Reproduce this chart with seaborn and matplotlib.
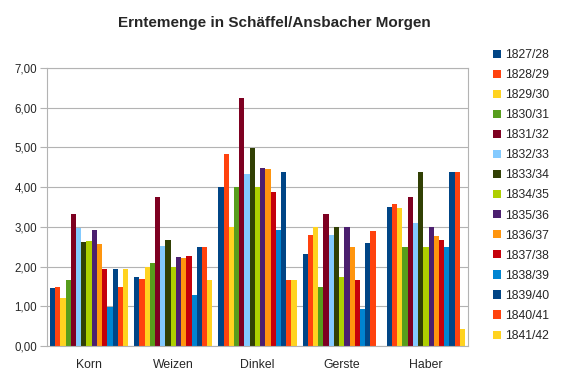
"""Erntemenge in Schäffel/Ansbacher Morgen — grouped bar chart."""
import matplotlib
matplotlib.use("Agg")
import matplotlib.pyplot as plt
import matplotlib.ticker as mticker
from matplotlib.patches import Patch
import numpy as np
import pandas as pd
import seaborn as sns

# ── Data ──────────────────────────────────────────────────────────────────────
crops = ["Korn", "Weizen", "Dinkel", "Gerste", "Haber"]
years = ["1827/28", "1828/29", "1829/30", "1830/31", "1831/32", "1832/33",
         "1833/34", "1834/35", "1835/36", "1836/37", "1837/38", "1838/39",
         "1839/40", "1840/41", "1841/42"]

korn   = [1.45, 1.48, 1.22, 1.67, 3.33, 2.98, 2.62, 2.65, 2.92, 2.56, 1.94, 0.98, 1.94, 1.48, 1.94]
weizen = [1.74, 1.68, 1.99, 2.08, 3.75, 2.51, 2.66, 1.99, 2.25, 2.21, 2.26, 1.29, 2.50, 2.50, 1.67]
dinkel = [4.00, 4.84, 2.99, 4.00, 6.25, 4.34, 4.99, 4.00, 4.49, 4.45, 3.89, 2.91, 4.38, 1.67, 1.67]
gerste = [2.32, 2.79, 2.99, 1.49, 3.33, 2.80, 2.99, 1.74, 2.99, 2.49, 1.67, 0.92, 2.59, 2.90, 0.0]
haber  = [3.49, 3.58, 3.48, 2.50, 3.75, 3.10, 4.37, 2.50, 2.99, 2.78, 2.66, 2.50, 4.37, 4.37, 0.44]

colors = ["#004586", "#ff420e", "#ffd320", "#579d1c", "#7e0021", "#83caff",
          "#314004", "#aecf00", "#4b1f6f", "#ff950e", "#c5000b", "#0084d1",
          "#004586", "#ff420e", "#ffd320"]

df = pd.DataFrame({"Korn": korn, "Weizen": weizen, "Dinkel": dinkel,
                   "Gerste": gerste, "Haber": haber}, index=years)
long = df.reset_index(names="Jahr").melt(id_vars="Jahr", var_name="Frucht",
                                          value_name="Menge")

# ── Style ─────────────────────────────────────────────────────────────────────
sns.set_style("white")
plt.rcParams["font.family"] = ["Liberation Sans", "DejaVu Sans"]

fig = plt.figure(figsize=(5.68, 3.80), dpi=100)
ax = fig.add_axes([47 / 568, 34 / 380, 421 / 568, 278 / 380])

sns.barplot(data=long, x="Frucht", y="Menge", hue="Jahr", order=crops,
            hue_order=years, palette=colors, width=0.93, gap=0,
            saturation=1, linewidth=0, errorbar=None, ax=ax, legend=False)

ax.set_ylim(0, 7)
ax.set_xlim(-0.5, 4.5)
ax.yaxis.set_major_locator(mticker.MultipleLocator(1))
ax.yaxis.set_major_formatter(
    mticker.FuncFormatter(lambda v, _: f"{v:.2f}".replace(".", ",")))
ax.grid(axis="y", color="#b3b3b3", linewidth=0.8)
ax.set_axisbelow(True)
for s in ax.spines.values():
    s.set_color("#b3b3b3")
    s.set_linewidth(0.8)
ax.set_xlabel("")
ax.set_ylabel("")

# category ticks between groups, labels centred
ax.set_xticks(np.arange(len(crops)))
ax.set_xticklabels(crops)
ax.set_xticks(np.arange(-0.5, len(crops)), minor=True)
ax.tick_params(axis="x", which="major", length=0, pad=9, labelsize=8.8)
ax.tick_params(axis="x", which="minor", length=5, color="#b3b3b3", width=0.8)
ax.tick_params(axis="y", length=5, color="#b3b3b3", width=0.8, labelsize=8.3,
               pad=2, left=True)

fig.text(274 / 568, 1 - 23 / 380, "Erntemenge in Schäffel/Ansbacher Morgen",
         ha="center", va="center", fontsize=11, fontweight="bold")

handles = [Patch(facecolor=c, edgecolor="none") for c in colors]
fig.legend(handles, years, loc="upper left",
           bbox_to_anchor=(493 / 568, 1 - 49 / 380), frameon=False,
           fontsize=8.8, handlelength=0.65, handleheight=0.65,
           handletextpad=0.35, labelspacing=0.66, borderaxespad=0,
           borderpad=0)

fig.savefig("out.png", dpi=100)
